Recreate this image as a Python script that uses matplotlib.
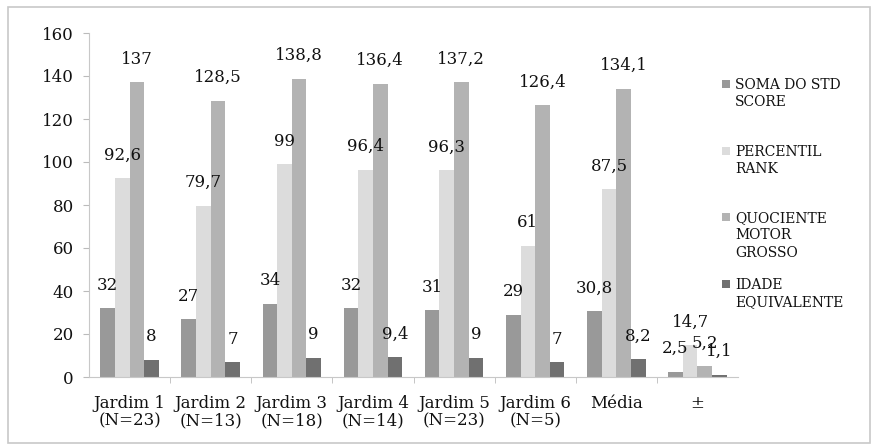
import numpy as np
import matplotlib
matplotlib.use("Agg")
import matplotlib.pyplot as plt
import matplotlib.patches as mpatches

plt.rcParams['font.family'] = ['DejaVu Serif']

# data
categories = ["Jardim 1\n(N=23)", "Jardim 2\n(N=13)", "Jardim 3\n(N=18)",
              "Jardim 4\n(N=14)", "Jardim 5\n(N=23)", "Jardim 6\n(N=5)",
              "Média", "±"]
soma_std = [32, 27, 34, 32, 31, 29, 30.8, 2.5]
percentil = [92.6, 79.7, 99, 96.4, 96.3, 61, 87.5, 14.7]
quociente = [137, 128.5, 138.8, 136.4, 137.2, 126.4, 134.1, 5.2]
idade = [8, 7, 9, 9.4, 9, 7, 8.2, 1.1]
series_names = ["SOMA DO STD\nSCORE", "PERCENTIL\nRANK",
                "QUOCIENTE\nMOTOR\nGROSSO", "IDADE\nEQUIVALENTE"]
colors = ['#999999', '#dcdcdc', '#b3b3b3', '#707070']

W, H = 875, 447
fig = plt.figure(figsize=(W / 100, H / 100), dpi=100)
ax = fig.add_axes([89 / W, 1 - 377 / H, (738 - 89) / W, (377 - 33) / H])

# outer frame of the chart
fig.patches.append(mpatches.Rectangle((8 / W, 1 - 443 / H), 862 / W, 436 / H,
                                      transform=fig.transFigure, fill=False,
                                      edgecolor='#c8c8c8', linewidth=1.2))

x = np.arange(len(categories))
w = 0.18
all_series = [soma_std, percentil, quociente, idade]
for i, vals in enumerate(all_series):
    pos = x + (i - 1.5) * w
    ax.bar(pos, vals, width=w, color=colors[i], linewidth=0)
    for px, v in zip(pos, vals):
        txt = ('%g' % v).replace('.', ',')
        ax.annotate(txt, (px, v), xytext=(0, 16.5), textcoords='offset points',
                    ha='center', va='center', fontsize=12, color='#111111')

ax.set_xlim(-0.5, len(categories) - 0.5)
ax.set_ylim(0, 160)
ax.set_yticks(range(0, 161, 20))
ax.tick_params(axis='y', labelsize=12, length=4, color='#bbbbbb', pad=7,
               labelcolor='#111111')

ax.set_xticks(x)
ax.set_xticklabels(categories, fontsize=12, linespacing=1.0, color='#111111')
ax.set_xticks(np.arange(0.5, len(categories) - 0.5, 1), minor=True)
ax.tick_params(axis='x', which='major', length=0, pad=13)
ax.tick_params(axis='x', which='minor', length=4, color='#bbbbbb')

for s in ['top', 'right']:
    ax.spines[s].set_visible(False)
for s in ['left', 'bottom']:
    ax.spines[s].set_color('#c8c8c8')

# legend drawn by hand, Excel style spacing
leg_tops = [78, 145, 211, 278]
for i, name in enumerate(series_names):
    yc = leg_tops[i] + 6
    fig.patches.append(mpatches.Rectangle((722 / W, 1 - (yc + 4) / H), 8 / W, 8 / H,
                                          transform=fig.transFigure,
                                          facecolor=colors[i], edgecolor='none'))
    fig.text(735 / W, 1 - leg_tops[i] / H, name, fontsize=10, va='top', ha='left',
             linespacing=1.3, color='#111111')

fig.savefig('out.png', dpi=100)
